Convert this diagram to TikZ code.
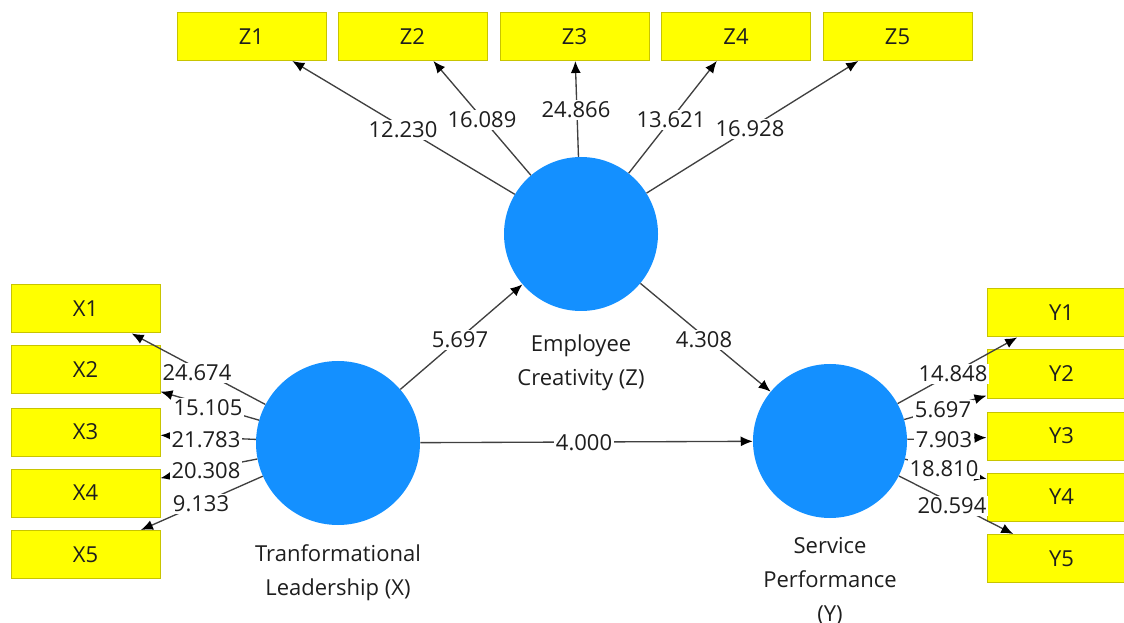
\documentclass[tikz,border=0pt]{standalone}
\usepackage{fontspec}
\setmainfont{Open Sans}
\usetikzlibrary{arrows.meta}
\definecolor{lvyellow}{RGB}{255,255,0}
\definecolor{lvborder}{RGB}{200,196,0}
\definecolor{lvblue}{RGB}{20,144,255}
\definecolor{edgegray}{RGB}{64,64,64}
\definecolor{txt}{RGB}{30,30,30}
\begin{document}
\begin{tikzpicture}[x=0.75pt,y=-0.75pt,
  ind/.style={rectangle,fill=lvyellow,draw=lvborder,line width=0.75pt,minimum width=111.75pt,minimum height=36pt,inner sep=0pt,font=\fontsize{16.5}{20}\selectfont,text=txt},
  lat/.style={circle,fill=lvblue,inner sep=0pt},
  edgearrow/.style={draw=edgegray,line width=1pt,-{Latex[length=9pt,width=7.5pt,color=black]}},
  wt/.style={fill=white,inner sep=1.5pt,font=\fontsize{16.5}{20}\selectfont,text=txt},
  ttl/.style={align=center,font=\fontsize{16.5}{25.5}\selectfont,text=txt}]
\useasboundingbox (0,0) rectangle (1124,623);
\fill[white] (0,0) rectangle (1124,623);
% latent variables
\node[lat,minimum size=123pt] (X) at (338,443) {};
\node[lat,minimum size=115.5pt] (Z) at (581,234) {};
\node[lat,minimum size=115.5pt] (Y) at (830,441) {};
% indicators
\node[ind] (Z1) at (251.5,36.5) {Z1};
\node[ind] (Z2) at (412.5,36.5) {Z2};
\node[ind] (Z3) at (574.5,36.5) {Z3};
\node[ind] (Z4) at (736,36.5) {Z4};
\node[ind] (Z5) at (897.5,36.5) {Z5};
\node[ind] (X1) at (85.5,309) {X1};
\node[ind] (X2) at (85.5,370) {X2};
\node[ind] (X3) at (85.5,432) {X3};
\node[ind] (X4) at (85.5,493) {X4};
\node[ind] (X5) at (85.5,554.5) {X5};
\node[ind] (Y1) at (1061.5,313) {Y1};
\node[ind] (Y2) at (1061.5,374) {Y2};
\node[ind] (Y3) at (1061.5,436) {Y3};
\node[ind] (Y4) at (1061.5,497) {Y4};
\node[ind] (Y5) at (1061.5,558.5) {Y5};
% connectors
\foreach \i in {1,...,5} {
  \draw[edgearrow] (Z) -- (Z\i);
  \draw[edgearrow] (X) -- (X\i);
  \draw[edgearrow] (Y) -- (Y\i);
}
\draw[edgearrow] (X) -- (Z);
\draw[edgearrow] (Z) -- (Y);
\draw[edgearrow] (X) -- (Y);
% path labels
\node[wt] (lxz) at (460,340) {5.697};
\node[wt] (lzy) at (704,340) {4.308};
\node[wt] (lxy) at (584,443) {4.000};
% outer loadings Z
\node[wt] (lz1) at (403,130) {12.230};
\node[wt] (lz2) at (482,120) {16.089};
\node[wt] (lz3) at (576,110) {24.866};
\node[wt] (lz4) at (671,120) {13.621};
\node[wt] (lz5) at (750,129) {16.928};
% outer loadings X
\node[wt] (lx1) at (197,373) {24.674};
\node[wt] (lx2) at (208,408) {15.105};
\node[wt] (lx3) at (206,440) {21.783};
\node[wt] (lx4) at (206,471) {20.308};
\node[wt] (lx5) at (201,504) {9.133};
% outer loadings Y
\node[wt] (ly1) at (953,374) {14.848};
\node[wt] (ly2) at (943,410) {5.697};
\node[wt] (ly3) at (944,440) {7.903};
\node[wt] (ly4) at (944,469) {18.810};
\node[wt] (ly5) at (952,506) {20.594};
% latent names
\node[ttl] (tz) at (581,363) {Employee\\Creativity (Z)};
\node[ttl] (tx) at (338,573) {Tranformational\\Leadership (X)};
\node[ttl] (ty) at (830,581) {Service\\Performance\\(Y)};
\end{tikzpicture}
\end{document}
